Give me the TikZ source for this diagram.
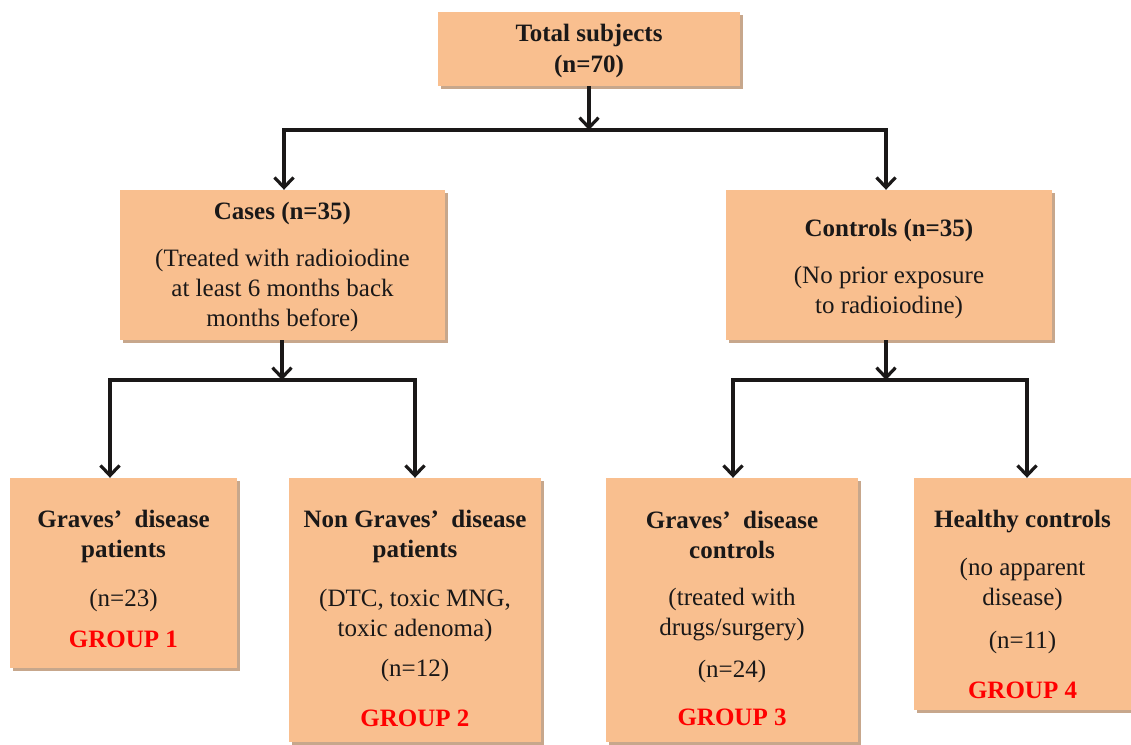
\documentclass[tikz,border=0pt]{standalone}
\usepackage{fontspec}
\setmainfont{Liberation Serif}
\usetikzlibrary{arrows.meta,shadows}
\definecolor{peach}{HTML}{F9BF8F}
\definecolor{shadowc}{HTML}{C7A78C}
\definecolor{ink}{HTML}{1A1818}
\definecolor{grp}{HTML}{FF0000}
\tikzset{
  box/.style={rectangle, fill=peach, inner sep=0pt, draw=none,
    drop shadow={shadow xshift=3pt, shadow yshift=-3pt, fill=shadowc, opacity=1}},
  txt/.style={align=center, text=ink, inner sep=0pt,
    font=\fontsize{25}{30}\selectfont},
  arr/.style={draw=ink, line width=3.2pt,
    -{Straight Barb[length=10pt,width=19pt,line width=3.2pt]}},
}
\newcommand{\grp}[1]{\textcolor{grp}{\textbf{#1}}}
\begin{document}
\begin{tikzpicture}[x=1pt,y=-1pt]
\useasboundingbox (0,0) rectangle (1131,744);
% boxes
\node[box, minimum width=302pt, minimum height=74pt] (total) at (589,49) {};
\node[box, minimum width=325pt, minimum height=150pt] (cases) at (282.5,265) {};
\node[box, minimum width=326pt, minimum height=150pt] (controls) at (889,265) {};
\node[box, minimum width=227pt, minimum height=190pt] (g1) at (123.5,573) {};
\node[box, minimum width=252pt, minimum height=264pt] (g2) at (415,610) {};
\node[box, minimum width=252pt, minimum height=264pt] (g3) at (732,610) {};
\node[box, minimum width=217pt, minimum height=232pt] (g4) at (1022.5,594) {};
% texts
\node[txt] (ttotal) at (589,51) {\textbf{Total subjects}\\[1pt]\textbf{(n=70)}};
\node[txt] (tcases) at (282.5,267) {\textbf{Cases (n=35)}\\[17pt](Treated with radioiodine\\at least 6 months back\\months before)};
\node[txt] (tcontrols) at (889,269) {\textbf{Controls (n=35)}\\[17pt](No prior exposure\\to radioiodine)};
\node[txt] (tg1) at (123.5,579) {\textbf{Graves’\ \ disease}\\\textbf{patients}\\[19pt](n=23)\\[11pt]\grp{GROUP 1}};
\node[txt] (tg2) at (415,618) {\textbf{Non Graves’\ \ disease}\\\textbf{patients}\\[19pt](DTC, toxic MNG,\\toxic adenoma)\\[10pt](n=12)\\[20pt]\grp{GROUP 2}};
\node[txt] (tg3) at (732,618) {\textbf{Graves’\ \ disease}\\\textbf{controls}\\[17pt](treated with\\drugs/surgery)\\[12pt](n=24)\\[18pt]\grp{GROUP 3}};
\node[txt] (tg4) at (1022.5,604) {\textbf{Healthy controls}\\[18pt](no apparent\\disease)\\[13pt](n=11)\\[20pt]\grp{GROUP 4}};
% junctions
\coordinate (j1) at (589,130);
\coordinate (j2) at (282,380);
\coordinate (j3) at (886,380);
% connectors
\draw[arr] (total.south) -- (j1);
\draw[arr] (j1) -| ([xshift=1.5pt]cases.north);
\draw[arr] (j1) -| ([xshift=-3pt]controls.north);
\draw[arr] (cases.south -| j2) -- (j2);
\draw[arr] (controls.south -| j3) -- (j3);
\draw[arr] (j2) -| ([xshift=-13.5pt]g1.north);
\draw[arr] (j2) -| (g2.north);
\draw[arr] (j3) -| ([xshift=1pt]g3.north);
\draw[arr] (j3) -| ([xshift=4.5pt]g4.north);
\end{tikzpicture}
\end{document}
